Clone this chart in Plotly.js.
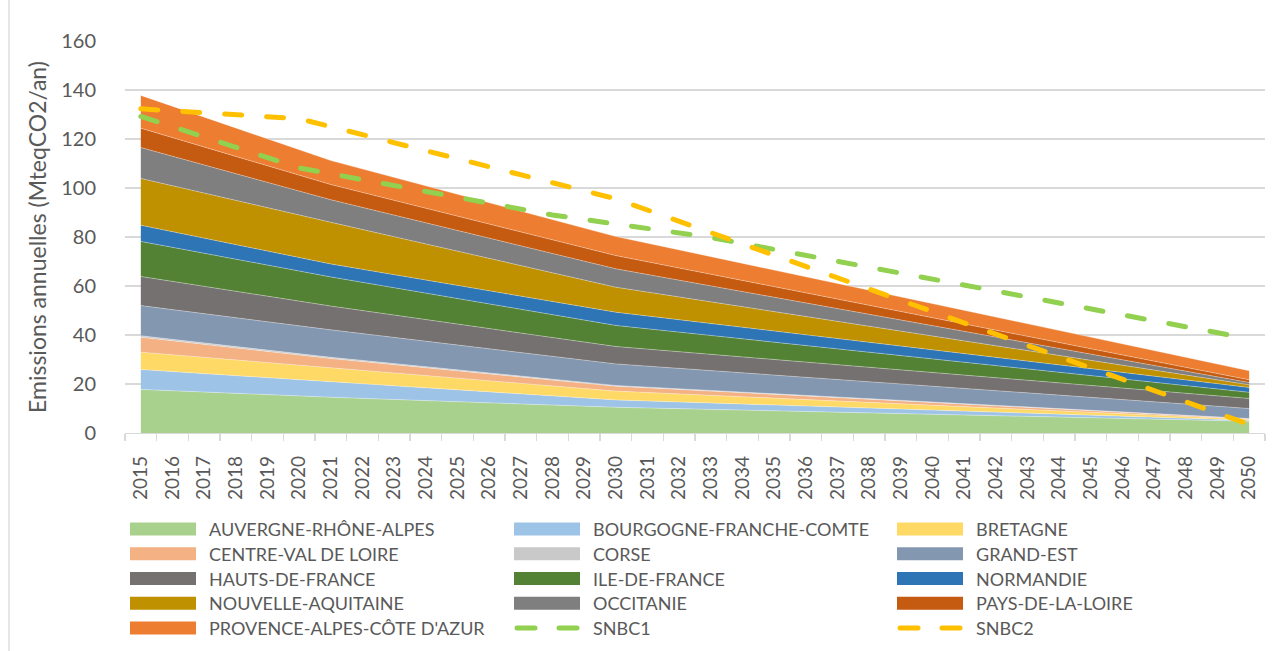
<!DOCTYPE html>
<html><head><meta charset="utf-8">
<script src="https://cdn.plot.ly/plotly-3.0.1.min.js"></script>
<style>
html,body{margin:0;padding:0;background:#fff;}
#chart{width:1284px;height:651px;}
.scatterlayer .js-line{stroke-linecap:round !important;}
.shapelayer path{stroke-linecap:round !important;}
</style></head><body><div id="chart"></div>
<script>
// Category tick labels
const years = [2015,2016,2017,2018,2019,2020,2021,2022,2023,2024,2025,2026,2027,2028,2029,2030,
  2031,2032,2033,2034,2035,2036,2037,2038,2039,2040,2041,2042,2043,2044,2045,2046,2047,2048,2049,2050];

// Regional trajectories: values read at the break years of the picture
const regionYears = [2015, 2021, 2030, 2050];
const auvergneRhoneAlpes   = [17.8, 14.6, 10.5, 4.8];
const bourgogneFrancheComte= [8.1, 6.4, 3.0, 0.4];
const bretagne             = [7.1, 5.6, 3.6, 0.4];
const centreValDeLoire     = [6.1, 3.8, 2.0, 0.2];
const corse                = [0.6, 0.5, 0.3, 0.1];
const grandEst             = [12.3, 11.2, 8.8, 4.1];
const hautsDeFrance        = [11.9, 9.7, 7.1, 4.1];
const ileDeFrance          = [14.3, 11.9, 8.6, 2.5];
const normandie            = [6.6, 5.3, 5.4, 2.0];
const nouvelleAquitaine    = [19.1, 17.0, 10.2, 1.1];
const occitanie            = [12.6, 9.2, 7.5, 0.9];
const paysDeLaLoire        = [7.9, 6.2, 5.4, 1.1];
const provenceAlpesCoteAzur= [13.4, 9.8, 7.8, 3.7];

// National strategies
const snbc1Years = [2015, 2020, 2028, 2033, 2050];
const snbc1 = [129.2, 108.2, 89.0, 79.8, 38.5];
const snbc2Years = [2015, 2020, 2030, 2050];
const snbc2 = [132.3, 128.3, 95.6, 3.5];

const regionNames = ['AUVERGNE-RHÔNE-ALPES','BOURGOGNE-FRANCHE-COMTE','BRETAGNE','CENTRE-VAL DE LOIRE','CORSE',
  'GRAND-EST','HAUTS-DE-FRANCE','ILE-DE-FRANCE','NORMANDIE','NOUVELLE-AQUITAINE','OCCITANIE',
  'PAYS-DE-LA-LOIRE',"PROVENCE-ALPES-CÔTE D'AZUR"];
const regionValues = [auvergneRhoneAlpes,bourgogneFrancheComte,bretagne,centreValDeLoire,corse,grandEst,
  hautsDeFrance,ileDeFrance,normandie,nouvelleAquitaine,occitanie,paysDeLaLoire,provenceAlpesCoteAzur];
const regionColors = ['#A9D18E','#9DC3E6','#FFD966','#F4B183','#C9C9C9','#8497B0','#767171','#548235',
  '#2E75B6','#BF9000','#7F7F7F','#C55A11','#ED7D31'];
const snbcNames = ['SNBC1','SNBC2'];
const snbcColors = ['#92D050','#FFC000'];

const FONT = 'Lato, "Liberation Sans", Arial, sans-serif';
const TXT = '#595959';

const traces = regionNames.map((n,i)=>({
  type:'scatter', mode:'lines', name:n, x:regionYears, y:regionValues[i],
  stackgroup:'one', fillcolor:regionColors[i],
  line:{width:0.6, color:'rgba(255,255,255,0.55)'}, hoverinfo:'skip', showlegend:false
}));
traces.push({type:'scatter', mode:'lines', name:'SNBC1', x:snbc1Years, y:snbc1,
  line:{color:snbcColors[0], width:5, dash:'17px,25px'}, showlegend:false, hoverinfo:'skip'});
traces.push({type:'scatter', mode:'lines', name:'SNBC2', x:snbc2Years, y:snbc2,
  line:{color:snbcColors[1], width:5, dash:'17px,25px'}, showlegend:false, hoverinfo:'skip'});

// Custom legend (3 columns) in pixel terms converted to paper coords
const L=125, R=1265, T=41, B=433;
const px = v => (v-L)/(R-L);
const py = v => (B-v)/(B-T);
const colX = [130, 514, 897];
const rowY = [529, 553.7, 578.5, 603.2, 628];
const shapes = [];
const annotations = [];
const legendNames = regionNames.concat(snbcNames);
const legendColors = regionColors.concat(snbcColors);
legendNames.forEach((n,i)=>{
  const c = i%3, r = Math.floor(i/3);
  const x0 = colX[c], yc = rowY[r];
  if (i < regionNames.length) {
    shapes.push({type:'rect', xref:'paper', yref:'paper', x0:px(x0), x1:px(x0+66), y0:py(yc+6.5), y1:py(yc-6.5),
      fillcolor:legendColors[i], line:{width:0}});
  } else {
    [[x0+3, x0+21],[x0+45, x0+63]].forEach(s=>{
      shapes.push({type:'line', xref:'paper', yref:'paper', x0:px(s[0]), x1:px(s[1]), y0:py(yc), y1:py(yc),
        line:{color:legendColors[i], width:5}});
    });
  }
  annotations.push({xref:'paper', yref:'paper', x:px(x0+77), y:py(yc), text:n, showarrow:false,
    xanchor:'left', yanchor:'middle', font:{family:FONT, size:18, color:TXT}});
});
// chart border (left)
shapes.push({type:'line', xref:'paper', yref:'paper', x0:px(9), x1:px(9), y0:py(-2), y1:py(653), line:{color:'#d9d9d9', width:1.3}});

const layout = {
  width:1284, height:651,
  margin:{l:L, r:1284-R, t:T, b:651-B},
  paper_bgcolor:'#fff', plot_bgcolor:'#fff',
  font:{family:FONT, color:TXT},
  showlegend:false,
  xaxis:{
    type:'linear', range:[2014.5, 2050.5], tickmode:'array', tickvals:years, ticktext:years.map(String),
    tickangle:-90, tickfont:{family:FONT, size:19, color:TXT},
    ticks:'outside', ticklen:14, tickcolor:'rgba(0,0,0,0)',
    minor:{tickmode:'linear', tick0:2014.5, dtick:1, ticks:'outside', ticklen:7, tickcolor:'#d9d9d9', tickwidth:1.3, showgrid:false},
    showline:true, linecolor:'#d9d9d9', linewidth:1.3, showgrid:false, zeroline:false, automargin:false, fixedrange:true
  },
  yaxis:{
    range:[0,160], tickmode:'linear', tick0:0, dtick:20,
    tickfont:{family:FONT, size:20, color:TXT},
    ticks:'outside', ticklen:24, tickcolor:'rgba(0,0,0,0)',
    gridcolor:'#d9d9d9', gridwidth:1.3, showline:false, zeroline:false, automargin:false, fixedrange:true,
    title:{text:'Emissions annuelles (MteqCO2/an)', font:{family:FONT, size:23, color:TXT}, standoff:8}
  },
  shapes:shapes, annotations:annotations
};
Plotly.newPlot('chart', traces, layout, {displayModeBar:false, staticPlot:true});
</script></body></html>
